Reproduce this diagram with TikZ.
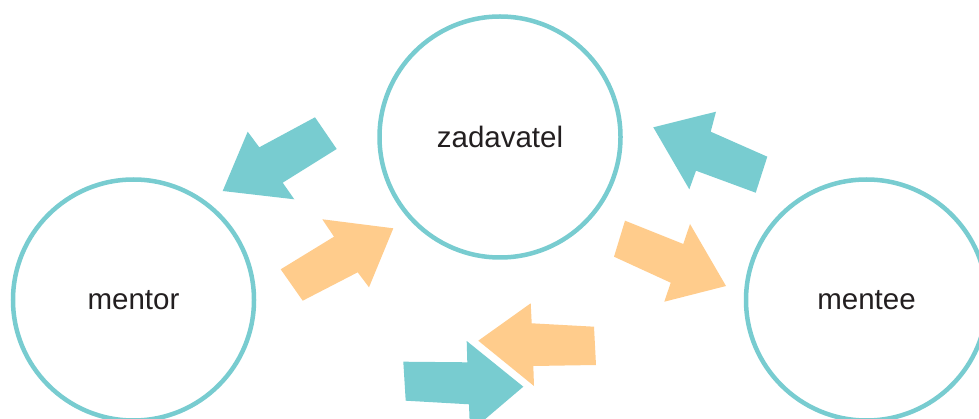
\documentclass[tikz,border=0pt]{standalone}
\usepackage{fontspec}
\setmainfont{Liberation Sans}
\definecolor{teal1}{HTML}{78CCD0}
\definecolor{orange1}{HTML}{FFCC8C}
\definecolor{txt}{HTML}{231F20}
\begin{document}
\begin{tikzpicture}[x=1pt,y=-1pt,
  party/.style={circle,draw=teal1,line width=4.5pt,minimum size=241pt,inner sep=0pt,
    font=\fontsize{29.5}{35}\selectfont,text=txt},
  tealarrow/.style={fill=teal1,draw=none},
  orangearrow/.style={fill=orange1,draw=none}]
\useasboundingbox (0,0) rectangle (979,419);
\clip (0,0) rectangle (979,419);
\fill[white] (0,0) rectangle (979,419);
\node[party] (zad) at (500,137) {zadavatel};
\node[party] (mentor) at (133.5,300) {mentor};
\node[party] (mentee) at (866.5,300) {mentee};
% zadavatel -> mentor (teal)
\fill[tealarrow] (315,117.3) -- (259.3,147.3) -- (247.7,131.7) -- (222.7,191) -- (294.3,199.3) -- (282.7,182.7) -- (336.7,149) -- cycle;
% mentor -> zadavatel (orange)
\fill[orangearrow] (280.7,269.3) -- (334,236.7) -- (322.3,219.3) -- (393.3,228.3) -- (369,287.3) -- (357.7,272.3) -- (302.7,300.7) -- cycle;
% mentee -> zadavatel (teal)
\fill[tealarrow] (653.3,127.3) -- (716,111.7) -- (710.7,131.7) -- (767.3,156.7) -- (755.7,192.7) -- (696,170.7) -- (689.3,189.3) -- cycle;
% zadavatel -> mentee (orange)
\fill[orangearrow] (625,220.7) -- (683.3,244) -- (690,224) -- (726,286) -- (664.3,301.7) -- (670.7,282.7) -- (614,256.7) -- cycle;
% bottom teal (right)
\fill[tealarrow] (403.3,361.7) -- (467.3,362.3) -- (466.7,341) -- (523.3,386.7) -- (470,432) -- (469,404.3) -- (405.7,400.7) -- cycle;
% bottom orange (left)
\fill[orangearrow] (478.3,340.7) -- (530.7,303.3) -- (531.7,323.3) -- (594,326.7) -- (596,365) -- (533.3,366) -- (534,386) -- cycle;
\end{tikzpicture}
\end{document}
